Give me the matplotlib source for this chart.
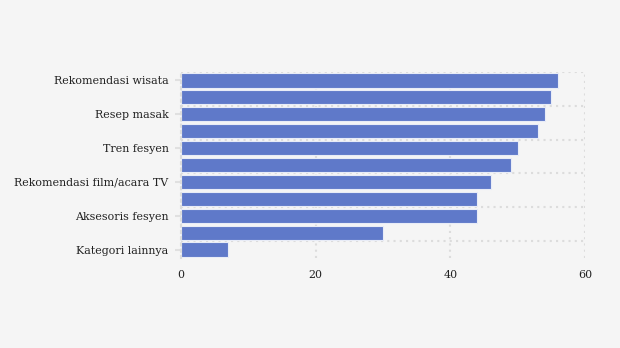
import matplotlib
matplotlib.use("Agg")
import matplotlib.pyplot as plt
from matplotlib.ticker import FixedLocator

categories = ["Rekomendasi wisata", "", "Resep masak", "", "Tren fesyen", "",
              "Rekomendasi film/acara TV", "", "Aksesoris fesyen", "", "Kategori lainnya"]
values = [56, 55, 54, 53, 50, 49, 46, 44, 44, 30, 7]
xticks = [0, 20, 40, 60]

bg = "#f5f5f5"
fig = plt.figure(figsize=(6.2, 3.48), dpi=100, facecolor=bg)
ax = fig.add_axes([181/620, 1-258/348, (585-181)/620, (258-72)/348])
ax.set_facecolor(bg)

pos = list(range(len(categories)))
ax.barh(pos, values, height=0.84, color="#5f79c9", edgecolor="#e8ecf7", linewidth=0.8, zorder=2)

ax.set_ylim(len(categories) - 0.5, -0.5)
ax.set_xlim(0, 60)

lab_pos = [i for i, c in enumerate(categories) if c]
ax.set_yticks(lab_pos)
ax.set_yticklabels([categories[i] for i in lab_pos], family="DejaVu Serif", fontsize=7.9, color="#222222")
ax.yaxis.set_minor_locator(FixedLocator([p - 0.5 for p in lab_pos]))
ax.set_xticks(xticks)
ax.set_xticklabels([str(t) for t in xticks], family="DejaVu Serif", fontsize=7.9, color="#222222")

ax.tick_params(axis="y", which="major", length=4, color="#e0e0e0", width=1.5, pad=5)
ax.tick_params(axis="y", which="minor", length=0)
ax.tick_params(axis="x", which="major", length=0, pad=9)

gridkw = dict(linestyle=(0, (1, 2)), color="#dcdcdc", linewidth=1.5)
ax.grid(axis="x", which="major", zorder=1, **gridkw)
ax.grid(axis="y", which="minor", zorder=1, **gridkw)
ax.grid(axis="y", which="major", visible=False)
ax.set_axisbelow(True)

for s in ["top", "right", "bottom"]:
    ax.spines[s].set_visible(False)
ax.spines["left"].set_linestyle((0, (1, 2)))
ax.spines["left"].set_linewidth(1.5)
ax.spines["left"].set_color("#dcdcdc")

fig.savefig("out.png", dpi=100, facecolor=bg)
